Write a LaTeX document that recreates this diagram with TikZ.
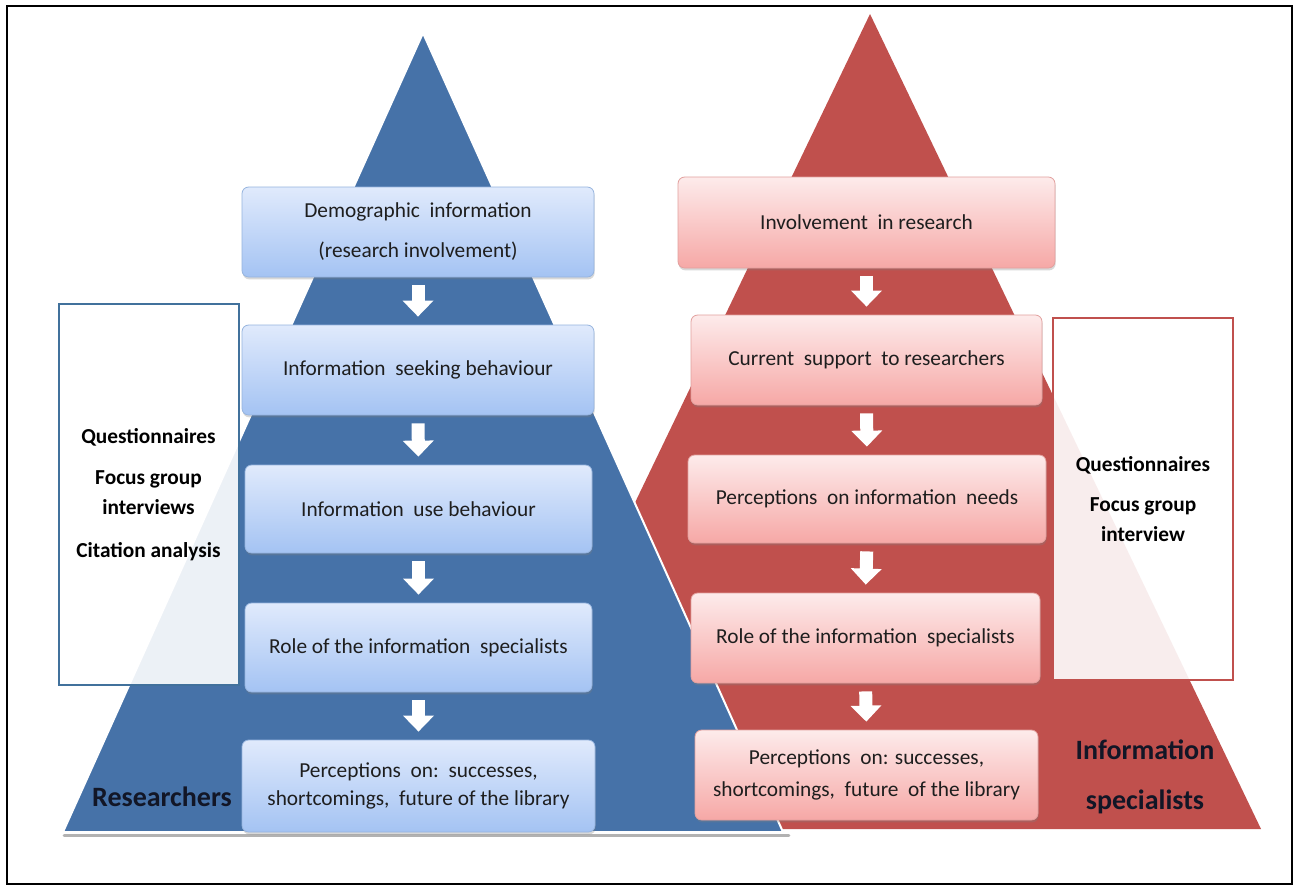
\documentclass[tikz,border=0pt]{standalone}
\usepackage{fontspec}
\setmainfont{Carlito}
\usetikzlibrary{shadows,arrows.meta}

\definecolor{triblue}{RGB}{70,114,168}
\definecolor{trired}{RGB}{192,80,77}
\definecolor{bluetop}{RGB}{224,234,252}
\definecolor{bluebot}{RGB}{164,195,243}
\definecolor{blueline}{RGB}{150,180,222}
\definecolor{redtop}{RGB}{253,235,235}
\definecolor{redbot}{RGB}{246,168,166}
\definecolor{redline}{RGB}{226,160,158}
\definecolor{blueedge}{RGB}{65,113,156}
\definecolor{rededge}{RGB}{192,80,77}
\definecolor{boxtext}{RGB}{30,30,30}
\definecolor{labeltext}{RGB}{18,22,38}

\begin{document}
\begin{tikzpicture}[x=0.75pt,y=-0.75pt,
  stagebox/.style={rounded corners=5pt, inner sep=0pt, text=boxtext, align=center,
    font=\fontsize{16}{22.5}\selectfont,
    drop shadow={shadow xshift=0.5pt, shadow yshift=-1.8pt, opacity=0.3}},
  bluestage/.style={stagebox, top color=bluetop, bottom color=bluebot, draw=blueline, line width=0.6pt},
  redstage/.style={stagebox, top color=redtop, bottom color=redbot, draw=redline, line width=0.6pt},
  flowarrow/.style={draw=white, line width=9.75pt, shorten <=6pt, shorten >=6pt,
    -{Triangle[width=22.5pt, length=12pt]}},
  methodbox/.style={fill=white, fill opacity=0.9, text opacity=1, line width=1.5pt,
    minimum width=135pt, inner sep=0pt, align=center, text=black,
    font=\bfseries\fontsize{16}{22.5}\selectfont},
  grouplabel/.style={align=center, text=labeltext, inner sep=0pt,
    font=\bfseries\fontsize{21}{37.5}\selectfont}
]
% page and outer frame
\useasboundingbox (0,0) rectangle (1298,890);
\fill[white] (0,0) rectangle (1298,890);
\draw[black, line width=1.5pt] (7,6) rectangle (1292,884);

% pyramids
\fill[trired] (870,14) -- (1261,829) -- (478,829) -- cycle;
\draw[black!30, line width=2pt, line cap=round] (64,835.5) -- (789,835.5);
\filldraw[fill=triblue, draw=white, line width=1.5pt, line join=round]
  (423,33) -- (783,832) -- (63,832) -- cycle;

% method boxes at the sides
\node[methodbox, draw=blueedge, minimum height=285.75pt] (lmeth) at (148.5,494.5)
  {Questionnaires\\[8pt]Focus group\\interviews\\[10pt]Citation analysis};
\node[methodbox, draw=rededge, minimum height=271.5pt] (rmeth) at (1143,499)
  {Questionnaires\\[8pt]Focus group\\interview};

% researchers' stages
\node[bluestage, minimum width=264pt, minimum height=67.5pt, font=\fontsize{16}{30}\selectfont] (b1) at (418,232)
  {Demographic\ \ information\\(research involvement)};
\node[bluestage, minimum width=264pt, minimum height=67.5pt] (b2) at (418,370)
  {Information\ \ seeking behaviour};
\node[bluestage, minimum width=260.25pt, minimum height=66pt] (b3) at (418.5,509)
  {Information\ \ use behaviour};
\node[bluestage, minimum width=260.25pt, minimum height=66.75pt] (b4) at (418.5,647.5)
  {Role of the information\ \ specialists};
\node[bluestage, minimum width=264.75pt, minimum height=69pt, font=\fontsize{16}{21}\selectfont] (b5) at (418.5,786)
  {Perceptions\ \ on:\ \ successes,\\shortcomings,\ \ future of the library};

% information specialists' stages
\node[redstage, minimum width=282.75pt, minimum height=68.25pt] (r1) at (866.5,222.5)
  {Involvement\ \ in research};
\node[redstage, minimum width=263.25pt, minimum height=67.5pt] (r2) at (866.5,360)
  {Current\ \ support\ \ to researchers};
\node[redstage, minimum width=268.5pt, minimum height=66pt] (r3) at (867,499)
  {Perceptions\ \ on information\ \ needs};
\node[redstage, minimum width=261.75pt, minimum height=67.5pt] (r4) at (865.5,638)
  {Role of the information\ \ specialists};
\node[redstage, minimum width=257.25pt, minimum height=67.5pt, font=\fontsize{16}{24}\selectfont] (r5) at (866.5,775)
  {Perceptions\ \ on: successes,\\shortcomings,\ \ future\ \ of the library};

% flow arrows
\draw[flowarrow] (b1.south) -- (b2.north);
\draw[flowarrow] (b2.south) -- (b3.north);
\draw[flowarrow] (b3.south) -- (b4.north);
\draw[flowarrow] (b4.south) -- (b5.north);
\draw[flowarrow] (r1.south) -- (r2.north);
\draw[flowarrow] (r2.south) -- (r3.north);
\draw[flowarrow] (r3.south) -- (r4.north);
\draw[flowarrow] (r4.south) -- (r5.north);

% group labels
\node[grouplabel] (lres) at (162,797) {Researchers};
\node[grouplabel] (lspec) at (1145,777) {Information\\specialists};
\end{tikzpicture}
\end{document}
